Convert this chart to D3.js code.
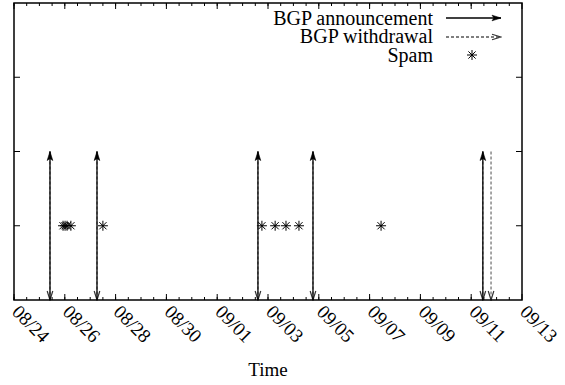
<!DOCTYPE html>
<html>
<head>
<meta charset="utf-8">
<script src="https://cdn.jsdelivr.net/npm/d3@7"></script>
<style>
  body { margin: 0; background: #fff; }
  svg text { font-family: "Liberation Serif", serif; }
</style>
</head>
<body>
<div id="chart"></div>
<script>
// event times (UTC)
var announcements = ["2008-08-25 10:00", "2008-08-27 06:25", "2008-09-02 14:30", "2008-09-04 18:30", "2008-09-11 11:00"];
var withdrawals = ["2008-08-25 10:00", "2008-08-27 06:25", "2008-09-02 14:30", "2008-09-04 18:30", "2008-09-11 11:00", "2008-09-11 18:45"];
var spam = ["2008-08-25 22:20", "2008-08-26 00:15", "2008-08-26 02:10", "2008-08-26 05:45", "2008-08-27 12:00",
            "2008-09-02 18:15", "2008-09-03 06:45", "2008-09-03 17:00", "2008-09-04 05:15", "2008-09-07 10:50"];
var arrowLevel = 2, spamLevel = 1;
var yTicks = [1, 2, 3];
var legendItems = ["BGP announcement", "BGP withdrawal", "Spam"];
var xDomain = ["2008-08-24 00:00", "2008-09-13 00:00"];

var parse = d3.utcParse("%Y-%m-%d %H:%M");
var serif = "Liberation Serif";

var margin = {top: 3, right: 43, bottom: 85, left: 14},
    width = 565 - margin.left - margin.right,
    height = 385 - margin.top - margin.bottom;

var svg = d3.select("#chart").append("svg")
    .attr("width", 565)
    .attr("height", 385)
    .attr("font-family", serif);

var g = svg.append("g")
    .attr("transform", "translate(" + margin.left + "," + margin.top + ")");

var x = d3.scaleUtc().domain(xDomain.map(parse)).range([0, width]);
var y = d3.scaleLinear().domain([0, 4]).range([height, 0]);

// arrow heads, pointing along +x (orient auto)
var defs = svg.append("defs");
defs.append("marker")
    .attr("id", "headA")
    .attr("viewBox", "-11 -5 12 10")
    .attr("refX", 0).attr("refY", 0)
    .attr("markerWidth", 12).attr("markerHeight", 10)
    .attr("markerUnits", "userSpaceOnUse")
    .attr("orient", "auto")
    .append("path")
    .attr("d", "M0,0 L-9,-2.8 L-7,0 L-9,2.8 Z")
    .style("fill", "#000")
    .style("stroke", "#000")
    .style("stroke-width", 0.6);
defs.append("marker")
    .attr("id", "headW")
    .attr("viewBox", "-11 -5 12 10")
    .attr("refX", 0).attr("refY", 0)
    .attr("markerWidth", 12).attr("markerHeight", 10)
    .attr("markerUnits", "userSpaceOnUse")
    .attr("orient", "auto")
    .append("path")
    .attr("d", "M-9,-2.8 L0,0 L-9,2.8")
    .style("fill", "none")
    .style("stroke", "#333")
    .style("stroke-width", 1.2);

// ticks: major every 2 days, minor every 12 h
var major = d3.utcDay.range(x.domain()[0], d3.utcHour.offset(x.domain()[1], 1), 2);
var minor = d3.utcHour.every(12).range(x.domain()[0], x.domain()[1]);

g.selectAll(".mtick").data(minor).enter().append("line")
    .attr("x1", function(d) { return x(d); })
    .attr("x2", function(d) { return x(d); })
    .attr("y1", height).attr("y2", height - 3)
    .style("stroke", "#000");
g.selectAll(".mtickt").data(minor).enter().append("line")
    .attr("x1", function(d) { return x(d); })
    .attr("x2", function(d) { return x(d); })
    .attr("y1", 0).attr("y2", 3)
    .style("stroke", "#000");
g.selectAll(".Mtick").data(major).enter().append("line")
    .attr("x1", function(d) { return x(d); })
    .attr("x2", function(d) { return x(d); })
    .attr("y1", height).attr("y2", height - 6)
    .style("stroke", "#000");
g.selectAll(".Mtickt").data(major).enter().append("line")
    .attr("x1", function(d) { return x(d); })
    .attr("x2", function(d) { return x(d); })
    .attr("y1", 0).attr("y2", 6)
    .style("stroke", "#000");

g.selectAll(".ytl").data(yTicks).enter().append("line")
    .attr("x1", 0).attr("x2", 6)
    .attr("y1", function(d) { return y(d); })
    .attr("y2", function(d) { return y(d); })
    .style("stroke", "#000");
g.selectAll(".ytr").data(yTicks).enter().append("line")
    .attr("x1", width).attr("x2", width - 6)
    .attr("y1", function(d) { return y(d); })
    .attr("y2", function(d) { return y(d); })
    .style("stroke", "#000");

var fmt = d3.utcFormat("%m/%d");
g.selectAll(".xlab").data(major).enter().append("text")
    .attr("transform", function(d) { return "translate(" + (x(d) - 3) + "," + (height + 13) + ") rotate(45)"; })
    .attr("font-family", serif)
    .attr("font-size", 19)
    .text(function(d) { return fmt(d); });

svg.append("text")
    .attr("x", margin.left + width / 2)
    .attr("y", 376)
    .attr("text-anchor", "middle")
    .attr("font-family", serif)
    .attr("font-size", 19)
    .text("Time");

// withdrawals: from level down to 0
g.selectAll(".wd").data(withdrawals.map(parse)).enter().append("line")
    .attr("x1", function(d) { return x(d); })
    .attr("x2", function(d) { return x(d); })
    .attr("y1", y(arrowLevel)).attr("y2", y(0))
    .attr("marker-end", "url(#headW)")
    .style("stroke", "#888")
    .style("stroke-width", 1.5)
    .style("stroke-dasharray", "3,2");

// announcements: from 0 up to level
g.selectAll(".an").data(announcements.map(parse)).enter().append("line")
    .attr("x1", function(d) { return x(d); })
    .attr("x2", function(d) { return x(d); })
    .attr("y1", y(0)).attr("y2", y(arrowLevel))
    .attr("marker-end", "url(#headA)")
    .style("stroke", "#000")
    .style("stroke-width", 1.3);

function star(sel) {
  var r = 5, q = 3.6;
  sel.attr("d", "M" + (-r) + ",0H" + r + "M0," + (-r) + "V" + r +
                "M" + (-q) + "," + (-q) + "L" + q + "," + q + "M" + (-q) + "," + q + "L" + q + "," + (-q))
     .style("stroke", "#000").style("stroke-width", 1).style("fill", "none");
}

g.selectAll(".spam").data(spam.map(parse)).enter().append("path")
    .attr("transform", function(d) { return "translate(" + x(d) + "," + y(spamLevel) + ")"; })
    .call(star);

// border
g.append("rect")
    .attr("width", width).attr("height", height)
    .style("fill", "none").style("stroke", "#000").style("stroke-width", 1.5);

// legend
var lg = svg.append("g");
var ly = [24.5, 43, 61.5];
lg.selectAll("text").data(legendItems).enter().append("text")
    .attr("x", 433)
    .attr("y", function(d, i) { return ly[i]; })
    .attr("text-anchor", "end")
    .attr("font-family", serif)
    .attr("font-size", 20)
    .text(function(d) { return d; });
lg.append("line")
    .attr("x1", 446).attr("x2", 501).attr("y1", 18).attr("y2", 18)
    .attr("marker-end", "url(#headA)")
    .style("stroke", "#000").style("stroke-width", 1.3);
lg.append("line")
    .attr("x1", 446).attr("x2", 501).attr("y1", 37).attr("y2", 37)
    .attr("marker-end", "url(#headW)")
    .style("stroke", "#555").style("stroke-width", 1.3).style("stroke-dasharray", "3,2");
lg.append("path")
    .attr("transform", "translate(472,55)")
    .call(star);
</script>
</body>
</html>
